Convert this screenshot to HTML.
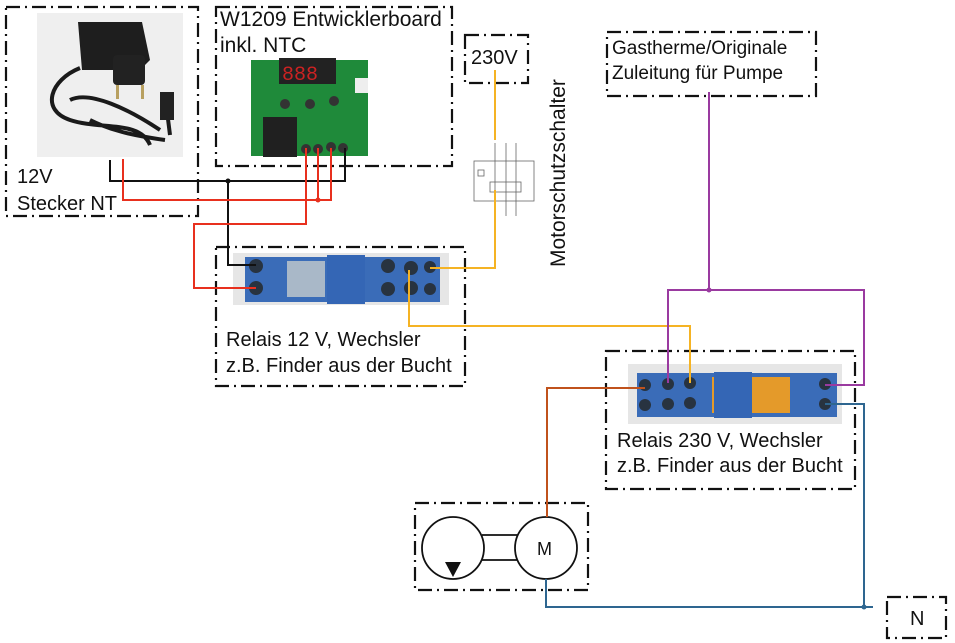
<!DOCTYPE html>
<html><head><meta charset="utf-8"><style>
html,body{margin:0;padding:0;background:#fff}
svg{display:block}
text{font-family:"Liberation Sans",sans-serif;fill:#111}
</style></head><body>
<svg width="955" height="643" viewBox="0 0 955 643" xmlns="http://www.w3.org/2000/svg">
<g fill="none" stroke="#111" stroke-width="2.2" stroke-dasharray="14,5,2,5">
<rect x="6" y="7" width="192" height="209"/>
<rect x="216" y="7" width="236" height="159"/>
<rect x="465" y="35" width="63" height="48"/>
<rect x="607" y="32" width="209" height="64"/>
<rect x="216" y="247" width="249" height="139"/>
<rect x="606" y="351" width="249" height="138"/>
<rect x="415" y="503" width="173" height="87"/>
<rect x="887" y="597" width="59" height="41"/>
</g>
<!-- charger photo -->
<rect x="37" y="13" width="146" height="144" fill="#efefef"/>
<path d="M78 22 L142 22 L150 60 L140 70 L82 70 Z" fill="#1e1e1e"/>
<rect x="113" y="55" width="32" height="30" rx="4" fill="#222"/>
<rect x="116" y="85" width="3" height="14" fill="#b8a060"/><rect x="141" y="85" width="3" height="14" fill="#b8a060"/>
<path d="M80 68 C50 80 40 110 70 120 C100 130 140 120 150 145 M70 100 C90 90 130 110 160 130 M90 120 C110 130 130 135 165 140 M165 95 L170 135" stroke="#1a1a1a" stroke-width="4" fill="none"/>
<rect x="160" y="92" width="14" height="28" fill="#222"/>
<!-- W1209 board -->
<rect x="251" y="60" width="117" height="96" fill="#1f8a3a"/>
<rect x="279" y="58" width="57" height="26" fill="#222"/>
<text x="282" y="80" style="font-size:20px;fill:#c22;font-family:'Liberation Mono',monospace">888</text>
<circle cx="285" cy="104" r="5" fill="#333"/><circle cx="310" cy="104" r="5" fill="#333"/><circle cx="334" cy="101" r="5" fill="#333"/>
<rect x="263" y="117" width="34" height="40" fill="#202020"/>
<rect x="355" y="78" width="13" height="15" fill="#eee"/>
<circle cx="306" cy="149" r="5" fill="#333"/><circle cx="318" cy="149" r="5" fill="#333"/><circle cx="331" cy="147" r="5" fill="#333"/><circle cx="343" cy="148" r="5" fill="#333"/>
<!-- switch symbol -->
<g stroke="#666" stroke-width="0.8" fill="none">
<rect x="474" y="161" width="60" height="40"/>
<line x1="495" y1="143" x2="495" y2="216"/><line x1="506" y1="143" x2="506" y2="216"/><line x1="516" y1="143" x2="516" y2="216"/>
<rect x="490" y="182" width="31" height="10"/>
<rect x="478" y="170" width="6" height="6"/>
</g>
<!-- relay 1 -->
<rect x="233" y="253" width="216" height="52" fill="#e6e6e6"/>
<rect x="245" y="257" width="195" height="45" fill="#3a6cb8"/>
<rect x="287" y="261" width="38" height="36" fill="#a9b8c8"/>
<rect x="327" y="255" width="38" height="49" fill="#3466b5"/>
<g fill="#283340"><circle cx="256" cy="266" r="7"/><circle cx="256" cy="288" r="7"/><circle cx="388" cy="266" r="7"/><circle cx="388" cy="289" r="7"/><circle cx="411" cy="268" r="7"/><circle cx="411" cy="288" r="7"/><circle cx="430" cy="267" r="6"/><circle cx="430" cy="289" r="6"/></g>
<!-- relay 2 -->
<rect x="628" y="364" width="214" height="60" fill="#e6e6e6"/>
<rect x="637" y="373" width="200" height="44" fill="#3a6cb8"/>
<rect x="712" y="377" width="78" height="36" fill="#e49a2a"/>
<rect x="714" y="372" width="38" height="46" fill="#3466b5"/>
<g fill="#283340"><circle cx="645" cy="385" r="6"/><circle cx="668" cy="384" r="6"/><circle cx="690" cy="383" r="6"/><circle cx="645" cy="405" r="6"/><circle cx="668" cy="404" r="6"/><circle cx="690" cy="403" r="6"/><circle cx="825" cy="384" r="6"/><circle cx="825" cy="404" r="6"/></g>
<!-- motor -->
<g stroke="#111" stroke-width="1.8" fill="#fff">
<line x1="482" y1="535" x2="518" y2="535"/><line x1="482" y1="560" x2="518" y2="560"/>
<circle cx="453" cy="548" r="31"/><circle cx="546" cy="548" r="31"/>
</g>
<path d="M445 562 L461 562 L453 577 Z" fill="#111"/>
<!-- wires -->
<g fill="none" stroke-width="2">
<path d="M110 160 V181 H345 V148 M228 181 V265 H256" stroke="#111"/>
<path d="M123 159 V200 H331 V148 M318 148 V200 M306 148 V224 H194 V288 H256" stroke="#e8301e"/>
<path d="M495 70 V140 M495 190 V268 H430 M409 270 V326 H690 V383" stroke="#f5b324"/>
<path d="M709 92 V290 M668 383 V290 H864 V385 H825" stroke="#9a3aa0"/>
<path d="M645 388 H547 V517" stroke="#c0521c"/>
<path d="M825 404 H864 V607 M546 579 V607 H873" stroke="#2e6690"/>
</g>
<circle cx="228" cy="181" r="2.5" fill="#111"/>
<circle cx="318" cy="200" r="2.5" fill="#e8301e"/>
<circle cx="709" cy="290" r="2.5" fill="#9a3aa0"/>
<circle cx="864" cy="607" r="2.5" fill="#2e6690"/>
<!-- texts -->
<g style="font-size:20px">
<text x="17" y="183">12V</text>
<text x="17" y="210">Stecker NT</text>
<text x="220" y="26" style="font-size:21px">W1209 Entwicklerboard</text>
<text x="220" y="52" style="font-size:21px">inkl. NTC</text>
<text x="471" y="64">230V</text>
<text x="612" y="54" style="font-size:19px">Gastherme/Originale</text>
<text x="612" y="79" style="font-size:19px">Zuleitung für Pumpe</text>
<text x="226" y="346" style="font-size:20px">Relais 12 V, Wechsler</text>
<text x="226" y="372" style="font-size:20px">z.B. Finder aus der Bucht</text>
<text x="617" y="447" style="font-size:20px">Relais 230 V, Wechsler</text>
<text x="617" y="472" style="font-size:20px">z.B. Finder aus der Bucht</text>
<text x="0" y="0" transform="translate(565,267) rotate(-90)" style="font-size:21px">Motorschutzschalter</text>
<text x="537" y="555" style="font-size:18px">M</text>
<text x="910" y="625" style="font-size:20px">N</text>
</g>
</svg>
</body></html>
